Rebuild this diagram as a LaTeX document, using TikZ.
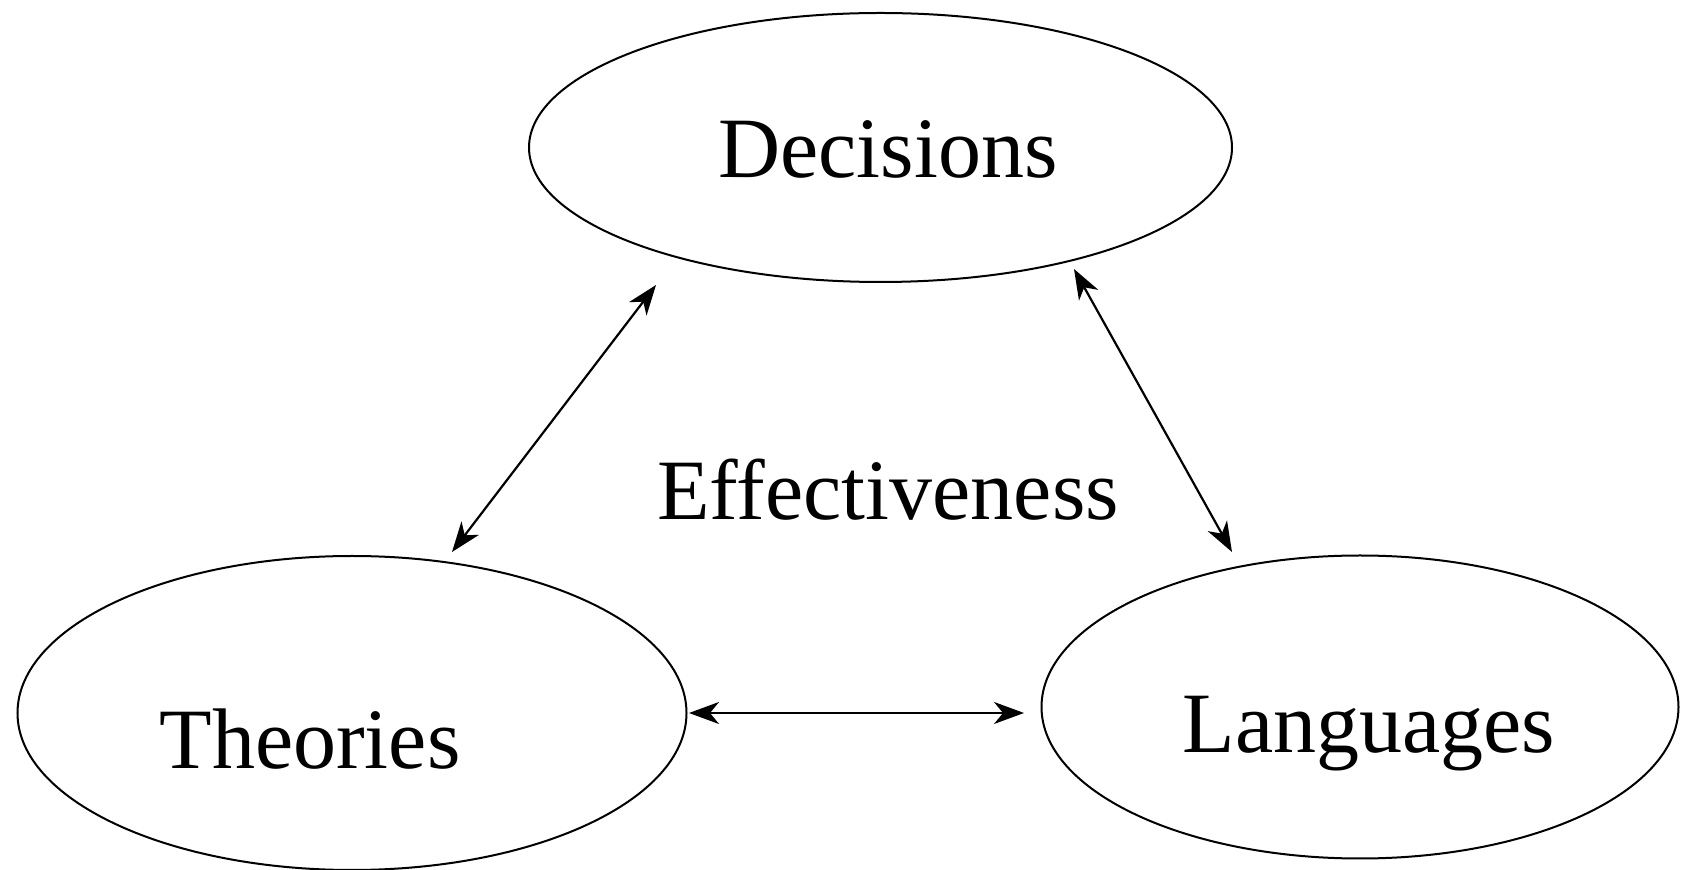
\documentclass[tikz,border=0pt]{standalone}
\usepackage{fontspec}
\setmainfont{Liberation Serif}
\usetikzlibrary{shapes.geometric,arrows.meta}
\begin{document}
\begin{tikzpicture}[x=0.5pt,y=-0.5pt,
  oval/.style={draw,ellipse,line width=1pt,inner sep=0pt,outer sep=0pt},
  lbl/.style={anchor=base,inner sep=0pt,font=\fontsize{43}{50}\selectfont},
  link/.style={line width=1.1pt,{Stealth[length=15pt,width=11pt,inset=4.5pt]}-{Stealth[length=15pt,width=11pt,inset=4.5pt]}}]
\useasboundingbox (0,0) rectangle (1687,870);
\node[oval,minimum width=351.5pt,minimum height=134.5pt] (D) at (880.5,147.5) {};
\node[oval,minimum width=334.5pt,minimum height=157pt] (T) at (352,713) {};
\node[oval,minimum width=318.5pt,minimum height=151.5pt] (L) at (1360,707) {};
\node[lbl] (Dt) at (888,178) {Decisions};
\node[lbl] (Tt) at (310,769) {Theories};
\node[lbl] (Lt) at (1369,753) {Languages};
\node[lbl] (E) at (888,520) {Effectiveness};
\coordinate (td1) at (452,552);
\coordinate (td2) at (656,285);
\coordinate (dl1) at (1074,269);
\coordinate (dl2) at (1232,552);
\coordinate (tl1) at (689,713);
\coordinate (tl2) at (1024,713);
\draw[link] (td1) -- (td2);
\draw[link] (dl1) -- (dl2);
\draw[link] (tl1) -- (tl2);
\end{tikzpicture}
\end{document}
